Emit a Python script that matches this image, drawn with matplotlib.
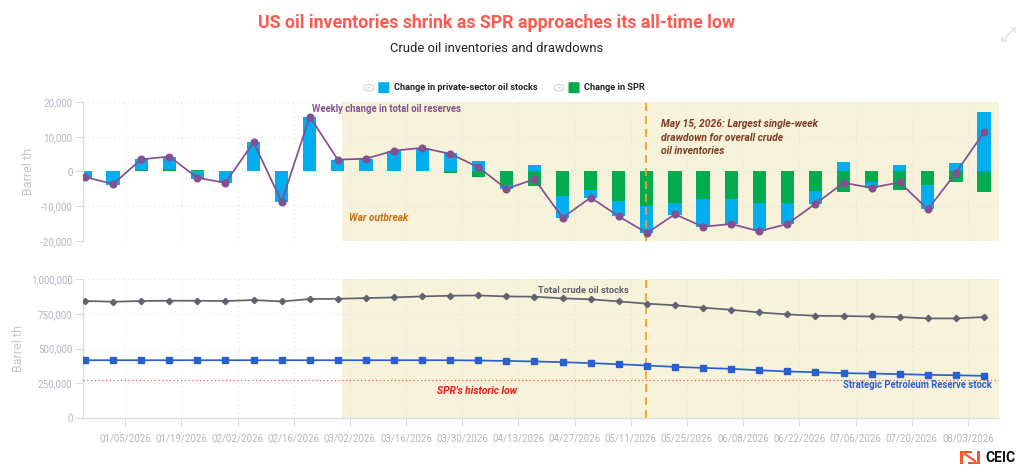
import numpy as np
import pandas as pd
import matplotlib
matplotlib.use("Agg")
import matplotlib.pyplot as plt
import matplotlib.dates as mdates
from matplotlib.patches import Ellipse, Circle, Rectangle, FancyBboxPatch

# weekly data, barrel th
weeks = pd.date_range("2025-12-26", "2026-08-07", freq="7D")

private_change = [-1800, -3800, 3200, 3600, -2200, -3450, 8400, -8900, 15800, 3400, 3700,
                  6000, 6800, 5400, 2900, -1000, 1900, -6400, -2400, -4500, -7700, -3400,
                  -7900, -7100, -8200, -6100, -3800, 2800, -1700, 1900, -6900, 2400, 17200]
spr_change = [200, 200, 300, 700, 400, 200, 0, 200, 0, 0, 0,
              0, 0, -300, -1600, -4000, -4200, -7000, -5200, -8400, -10000, -9000,
              -8000, -8000, -9000, -9000, -5500, -6000, -3000, -5200, -4000, -2900, -6000]
total_change = [-1600, -3600, 3500, 4300, -1800, -3250, 8400, -8700, 15800, 3400, 3700,
                6000, 6800, 5100, 1250, -5000, -2200, -13300, -7500, -12900, -17700, -12300,
                -15900, -15100, -17200, -15100, -9300, -3250, -4700, -3100, -10900, -400, 11300]

total_stock = [842, 837, 842, 844, 844, 842, 849, 839, 856, 858, 863,
               868, 875, 880, 882, 875, 873, 861, 854, 839, 823, 811,
               794, 779, 760, 746, 736, 734, 731, 727, 717, 717, 727]
spr_stock = [417, 417, 417, 417, 417, 417, 417, 417, 417, 417, 417,
             417, 417, 417, 415, 412, 408, 403, 396, 388, 379, 369,
             362, 355, 345, 336, 331, 324, 321, 317, 312, 309, 305]
spr_low = 273

tick_dates = pd.date_range("2026-01-05", "2026-08-03", freq="14D")
war_start = pd.Timestamp("2026-02-28")
drawdown_day = pd.Timestamp("2026-05-14 18:00")
x_min = pd.Timestamp("2025-12-25 12:00")
x_max = pd.Timestamp("2026-08-10 16:00")

W, H = 1024, 473
GREY = "#b4b4c4"
LINE = "#dcdce4"
BLUE = "#00aeef"
GREEN = "#00ac4f"
PURPLE = "#85508f"

plt.rcParams["font.family"] = ["Roboto", "DejaVu Sans"]

fig = plt.figure(figsize=(W / 100, H / 100), dpi=100)


def box(left, top, right, bottom):
    return [left / W, 1 - bottom / H, (right - left) / W, (bottom - top) / H]


def fx(px):
    return px / W


def fy(px):
    return 1 - px / H


def style_axes(ax):
    ax.set_xlim(x_min, x_max)
    ax.set_xticks(tick_dates)
    ax.grid(True, color="#e2e2e8", linestyle=(0, (1, 3)), linewidth=0.8)
    ax.set_axisbelow(True)
    for side in ["top", "right"]:
        ax.spines[side].set_visible(False)
    for side in ["left", "bottom"]:
        ax.spines[side].set_color(LINE)
        ax.spines[side].set_linewidth(1)
    ax.tick_params(axis="y", length=5.8, color=LINE, labelcolor=GREY, labelsize=7.0, pad=1.8)
    ax.axvspan(war_start, x_max, color="#f7f3da", zorder=0, lw=0)
    ax.axvline(drawdown_day, color="#f7a21b", linestyle=(0, (4.4, 2.8)), linewidth=1.3, zorder=4)


# top panel: weekly changes
ax1 = fig.add_axes(box(83, 102, 998.7, 241))
style_axes(ax1)
ax1.set_ylim(-20000, 20000)
ax1.set_yticks([-20000, -10000, 0, 10000, 20000])
ax1.yaxis.set_major_formatter(lambda v, pos: f"{v:,.0f}")
ax1.tick_params(axis="x", length=0, labelbottom=False)
ax1.spines["bottom"].set_visible(False)

private = np.array(private_change)
spr = np.array(spr_change)
# green sits next to zero, blue stacks beyond it when signs agree
private_base = np.where(np.sign(private) == np.sign(spr), spr, 0)
ax1.bar(weeks, spr, width=3.3, color=GREEN, zorder=2)
ax1.bar(weeks, private, bottom=private_base, width=3.3, color=BLUE, zorder=2)
ax1.plot(weeks, total_change, color=PURPLE, linewidth=1.25, marker="o", markersize=4.8, zorder=5)

ax1.text(pd.Timestamp("2026-02-20 14:00"), 18000, "Weekly change in total oil reserves", color=PURPLE,
         fontsize=6.85, fontweight="bold", ha="left", va="center")
ax1.text(pd.Timestamp("2026-03-01 18:00"), -13400, "War outbreak", color="#c4700f",
         fontsize=7.3, fontweight="bold", style="italic", ha="left", va="center")
ax1.text(pd.Timestamp("2026-05-18 14:00"), 9800, "May 15, 2026: Largest single-week\ndrawdown for overall crude\noil inventories",
         color="#7d3a22", fontsize=7.4, fontweight="bold", style="italic", ha="left", va="center", linespacing=1.4)

# bottom panel: stock levels
ax2 = fig.add_axes(box(83, 279, 998.7, 418.3))
style_axes(ax2)
ax2.set_ylim(0, 1000)
ax2.set_yticks([0, 250, 500, 750, 1000])
ax2.yaxis.set_major_formatter(lambda v, pos: f"{v * 1000:,.0f}")
ax2.xaxis.set_major_formatter(mdates.DateFormatter("%m/%d/%Y"))
ax2.tick_params(axis="x", length=5.8, color=LINE, labelcolor=GREY, labelsize=7.0, pad=5)

ax2.plot(weeks, total_stock, color="#62616f", linewidth=1.25, marker="D", markersize=3.2, zorder=5)
ax2.plot(weeks, spr_stock, color="#2a5fd0", linewidth=1.25, marker="s", markersize=4.8, zorder=5)
ax2.axhline(spr_low, color="#f05a5a", linestyle=(0, (1, 2)), linewidth=0.9, zorder=3)

ax2.text(pd.Timestamp("2026-04-17 18:00"), 920, "Total crude oil stocks", color="#62616f",
         fontsize=6.75, fontweight="bold", ha="left", va="center")
ax2.text(pd.Timestamp("2026-08-08 22:00"), 240, "Strategic Petroleum Reserve stock", color="#2a5fd0",
         fontsize=6.85, fontweight="bold", ha="right", va="center")
ax2.text(pd.Timestamp("2026-04-02 14:00"), 196, "SPR's historic low", color="#f01414",
         fontsize=7.35, fontweight="bold", style="italic", ha="center", va="center")

# axis titles sit at fixed spots in the original
fig.text(fx(28), fy(171), "Barrel th", color="#c4c4d0", fontsize=9, rotation=90, ha="center", va="center")
fig.text(fx(19), fy(348.5), "Barrel th", color="#c4c4d0", fontsize=9, rotation=90, ha="center", va="center")

# titles
fig.text(fx(496.5), fy(23), "US oil inventories shrink as SPR approaches its all-time low", color="#ff5a52",
         fontsize=12.75, fontweight="bold", ha="center", va="center")
fig.text(fx(497), fy(48.5), "Crude oil inventories and drawdowns", color="#222222",
         fontsize=9.4, ha="center", va="center")


# legend, laid out by hand because of the eye icons
def legend_entry(eye_x, square_x, text_x, color, label):
    fig.patches.append(Ellipse((fx(eye_x), fy(87.7)), 10 / W, 6.5 / H, facecolor="white", edgecolor="#d8d8de",
                               linewidth=0.9, transform=fig.transFigure))
    fig.patches.append(Circle((fx(eye_x), fy(87.7)), 1.6 / W, facecolor="#d8d8de", edgecolor="none",
                              transform=fig.transFigure))
    fig.patches.append(FancyBboxPatch((fx(square_x - 5.5), fy(93.2)), 11 / W, 11 / H, boxstyle="round,pad=0,rounding_size=0.001",
                                      facecolor=color, edgecolor="none", transform=fig.transFigure))
    fig.text(fx(text_x), fy(87.7), label, color="#222222", fontsize=6.55, fontweight="bold", ha="left", va="center")


legend_entry(369, 383.8, 393.7, BLUE, "Change in private-sector oil stocks")
legend_entry(559, 574, 584, GREEN, "Change in SPR")

# expand icon, top right
for x0, y0, x1, y1 in [(1002, 41, 1015, 28)]:
    fig.add_artist(plt.Line2D([fx(x0), fx(x1)], [fy(y0), fy(y1)], color="#e4e4e8", linewidth=1.1))
    fig.add_artist(plt.Line2D([fx(x0), fx(x0), fx(x0 + 4)], [fy(y0 - 4), fy(y0), fy(y0)], color="#e4e4e8", linewidth=1.1))
    fig.add_artist(plt.Line2D([fx(x1 - 4), fx(x1), fx(x1)], [fy(y1), fy(y1), fy(y1 + 4)], color="#e4e4e8", linewidth=1.1))

# CEIC logo
logo = "#f4592a"
for left, top, wd, ht in [(960, 451, 3, 13), (977, 451, 3, 13), (963, 451, 9, 2.4), (968, 461.6, 9, 2.4)]:
    fig.patches.append(Rectangle((fx(left), fy(top + ht)), wd / W, ht / H, facecolor=logo, edgecolor="none",
                                 transform=fig.transFigure))
fig.add_artist(plt.Line2D([fx(965), fx(975)], [fy(454), fy(461)], color=logo, linewidth=1.6))
fig.text(fx(985), fy(457.5), "CEIC", color="#111111", fontsize=10, fontweight="bold", ha="left", va="center")

fig.savefig("out.png", dpi=100)
